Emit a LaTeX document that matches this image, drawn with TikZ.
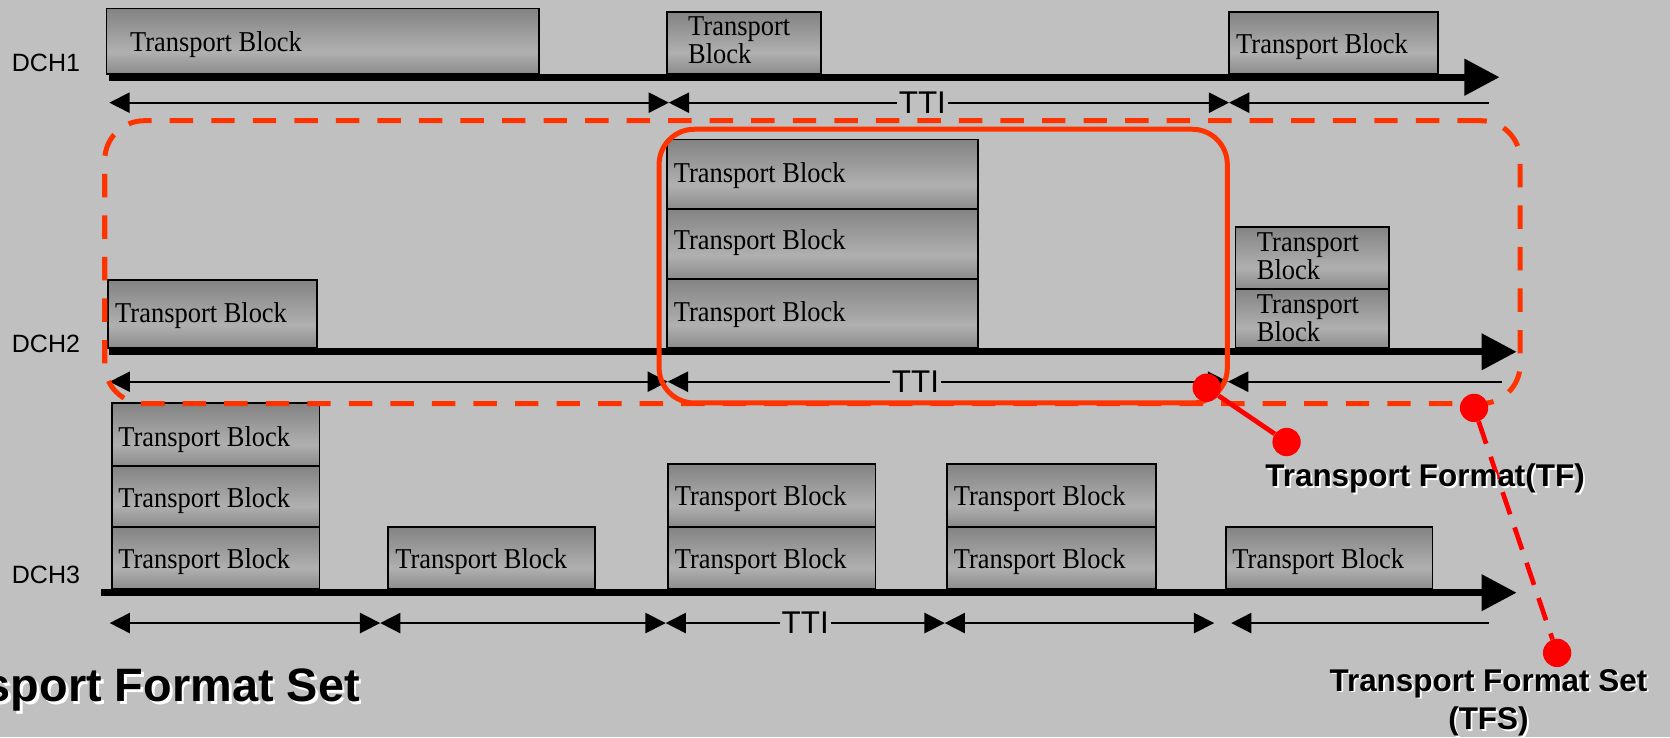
\documentclass[tikz,border=0pt]{standalone}
\usepackage{fontspec}
\setmainfont{Liberation Serif}
\newfontfamily\arialf{Liberation Sans}
\newfontfamily\tbf[FakeStretch=0.92]{Liberation Serif}
\usetikzlibrary{arrows.meta}
\definecolor{bg}{HTML}{C0C0C0}
\definecolor{rbox}{HTML}{FF3300}
\definecolor{rdot}{HTML}{FF0000}
\definecolor{gtop}{gray}{0.38}
\definecolor{gmid}{gray}{0.69}
\definecolor{gbot}{gray}{0.33}
\pgfdeclareverticalshading{tbshade}{100bp}{color(0bp)=(gbot); color(42bp)=(gmid); color(100bp)=(gtop)}
\newcommand\tbk[5]{\node[tblock, minimum width={(#4-(#2))*1pt}, minimum height={(#5-(#3))*1pt}] (#1) at (#2,#3) {};}
\newcommand\tbt[4]{\node[tbtext] (#1) at (#2,#3) {#4};}
\newcommand\tbtt[3]{\node[tbtext, anchor=north west] (#1) at (#2,{#3-17.9}) {Transport\\Block};}
\begin{document}
\begin{tikzpicture}[x=1pt, y=-1pt,
  >={Triangle[length=19pt,width=19pt]},
  tblock/.style={draw=black, line width=1.8pt, shade, shading=tbshade, inner sep=0pt, outer sep=0pt, anchor=north west},
  tbtext/.style={font=\tbf\fontsize{27}{26.3}\selectfont, inner sep=0pt, align=left, anchor=base west},
  dchlab/.style={font=\arialf\fontsize{23.5}{28}\selectfont, inner sep=0pt, anchor=base west},
  axisline/.style={line width=6.5pt, -{Triangle[length=33pt,width=33pt]}},
  ttiline/.style={line width=1.6pt},
  ttilab/.style={font=\arialf\fontsize{29.5}{30}\selectfont, fill=bg, inner xsep=2pt, inner ysep=0pt},
  tfsbox/.style={draw=rbox, line width=4.7pt, dash pattern=on 22pt off 17pt, rounded corners=37pt, inner sep=0pt, anchor=north west},
  tfbox/.style={draw=rbox, line width=4.7pt, rounded corners=33pt, inner sep=0pt, anchor=north west},
  reddot/.style={circle, fill=rdot, minimum size=26.6pt, inner sep=0pt},
  boldlab/.style={font=\arialf\bfseries\fontsize{29.5}{36}\selectfont, inner sep=0pt, align=center},
  biglab/.style={font=\arialf\bfseries\fontsize{44}{48}\selectfont, inner sep=0pt}
]
\useasboundingbox (0,0) rectangle (1568,692);
\clip (0,0) rectangle (1568,692);
\fill[bg] (0,0) rectangle (1568,692);

% ---------- DCH1 ----------
\node[dchlab] (dch1) at (11,66.7) {DCH1};
\tbk{d1a}{100}{8}{506}{69.5}
\tbk{d1b}{626}{11}{770.6}{69.5}
\tbk{d1c}{1154}{11}{1350.5}{69.5}
\coordinate (a1s) at (102,72.5);
\coordinate (a1e) at (1408,72.5);
\draw[axisline] (a1s) -- (a1e);
\tbt{d1at}{122}{48}{Transport Block}
\tbtt{d1bt}{646}{33.8}
\tbt{d1ct}{1160.5}{50.7}{Transport Block}
\coordinate (t1a) at (102.7,96.4);
\coordinate (t1b) at (628,96.4);
\coordinate (t1c) at (1154,96.4);
\coordinate (t1d) at (1398,96.4);
\draw[ttiline,<->] (t1a) -- (t1b);
\draw[ttiline,<->] (t1b) -- node[ttilab, pos=0.4525] (tti1) {TTI} (t1c);
\draw[ttiline,<-] (t1c) -- (t1d);

% ---------- DCH2 ----------
\node[dchlab] (dch2) at (11,331) {DCH2};
\tbk{d2a}{101}{263}{298}{327}
\tbk{d2b1}{626}{131}{918.5}{196}
\tbk{d2b2}{626}{196}{918.5}{262}
\tbk{d2b3}{626}{262}{918.5}{327}
\tbk{d2c1}{1160}{213}{1304}{271}
\tbk{d2c2}{1160}{271}{1304}{327}
\coordinate (a2s) at (102,330.3);
\coordinate (a2e) at (1424,330.3);
\draw[axisline] (a2s) -- (a2e);
\tbt{d2at}{108}{303}{Transport Block}
\tbt{d2b1t}{632.5}{171}{Transport Block}
\tbt{d2b2t}{632.5}{234}{Transport Block}
\tbt{d2b3t}{632.5}{301.5}{Transport Block}
\tbtt{d2c1t}{1180}{236.3}
\tbtt{d2c2t}{1180}{294}
\coordinate (t2a) at (103,358.4);
\coordinate (t2b) at (627,358.4);
\coordinate (t2c) at (1153,358.4);
\coordinate (t2d) at (1410,358.4);
\draw[ttiline,<->] (t2a) -- (t2b);
\draw[ttiline,<->] (t2b) -- node[ttilab, pos=0.442] (tti2) {TTI} (t2c);
\draw[ttiline,<-] (t2c) -- (t2d);

% ---------- DCH3 ----------
\node[dchlab] (dch3) at (11,548) {DCH3};
\tbk{d3a1}{105}{378.7}{300}{437.2}
\tbk{d3a2}{105}{437.2}{300}{494.5}
\tbk{d3a3}{105}{494.5}{300}{553.4}
\tbk{d3b}{364.6}{494.5}{558.5}{553.4}
\tbk{d3c1}{627}{436}{822}{494.5}
\tbk{d3c2}{627}{494.5}{822}{553.4}
\tbk{d3d1}{889}{436}{1085}{494.5}
\tbk{d3d2}{889}{494.5}{1085}{553.4}
\tbk{d3e}{1151}{494.5}{1345}{553.4}
\coordinate (a3s) at (95,556.5);
\coordinate (a3e) at (1424,556.5);
\draw[axisline] (a3s) -- (a3e);
\tbt{d3a1t}{111}{418.8}{Transport Block}
\tbt{d3a2t}{111}{476.7}{Transport Block}
\tbt{d3a3t}{111}{534}{Transport Block}
\tbt{d3bt}{371}{534}{Transport Block}
\tbt{d3c1t}{633.5}{475}{Transport Block}
\tbt{d3c2t}{633.5}{534}{Transport Block}
\tbt{d3d1t}{895.3}{475}{Transport Block}
\tbt{d3d2t}{895.3}{534}{Transport Block}
\tbt{d3et}{1157}{534}{Transport Block}
\coordinate (t3a) at (103,585);
\coordinate (t3b) at (357,585);
\coordinate (t3c) at (625,585);
\coordinate (t3d) at (887,585);
\coordinate (t3e) at (1140,585);
\coordinate (t3f) at (1156,585);
\coordinate (t3g) at (1398,585);
\draw[ttiline,<->] (t3a) -- (t3b);
\draw[ttiline,<->] (t3b) -- (t3c);
\draw[ttiline,<->] (t3c) -- node[ttilab, pos=0.5] (tti3) {TTI} (t3d);
\draw[ttiline,<->] (t3d) -- (t3e);
\draw[ttiline,<-] (t3f) -- (t3g);

% ---------- red frames ----------
\node[tfsbox, minimum width=1329pt, minimum height=265.6pt] (tfsframe) at (96,111) {};
\node[tfbox, minimum width=533.5pt, minimum height=257pt] (tfframe) at (616.5,119) {};

\node[reddot] (dot1) at (1133,364) {};
\node[reddot] (dot2) at (1208,415) {};
\node[reddot] (dot3) at (1384,383) {};
\node[reddot] (dot4) at (1462,613) {};
\draw[rdot, line width=4.5pt] (dot1) -- (dot2);
\draw[rdot, line width=4.4pt, dash pattern=on 22pt off 13pt] (dot3) -- (dot4);

% ---------- labels ----------
\node[boldlab, white, anchor=base, xshift=1.8pt, yshift=-1.8pt] (tfsh) at (1338,457) {Transport Format(TF)};
\node[boldlab, anchor=base] (tf) at (1338,457) {Transport Format(TF)};
\node[boldlab, white, anchor=north, xshift=1.8pt, yshift=-1.8pt] (tfssh) at (1397.5,628) {Transport Format Set\\(TFS)};
\node[boldlab, anchor=north] (tfs) at (1397.5,628) {Transport Format Set\\(TFS)};
\node[biglab, white, anchor=base east, xshift=2.5pt, yshift=-2.5pt] (tfsbigsh) at (338,659) {Transport Format Set};
\node[biglab, anchor=base east] (tfsbig) at (338,659) {Transport Format Set};
\end{tikzpicture}
\end{document}
